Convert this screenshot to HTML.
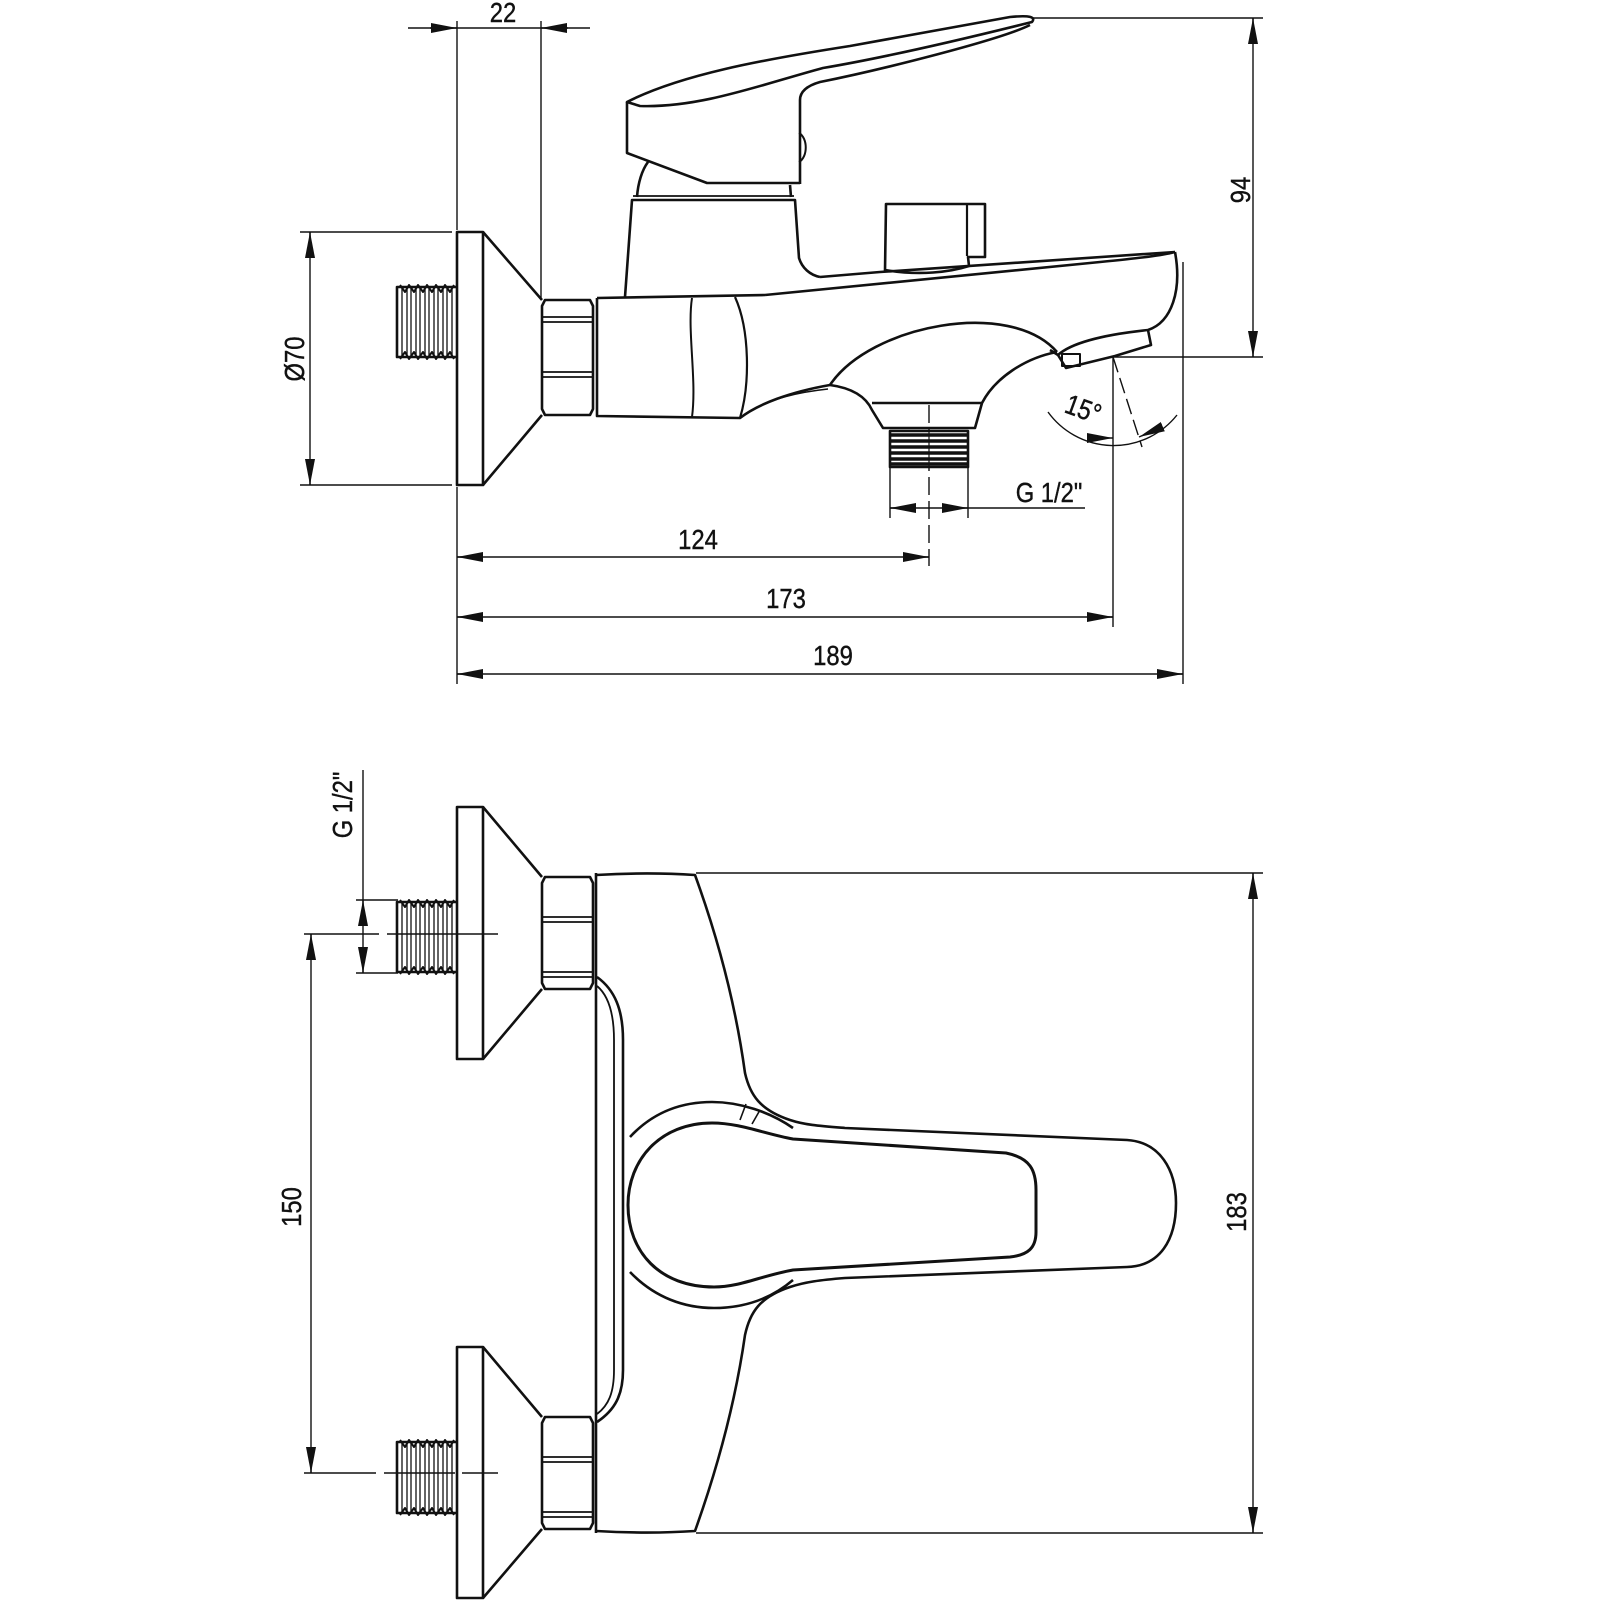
<!DOCTYPE html>
<html><head><meta charset="utf-8"><style>
html,body{margin:0;padding:0;background:#fff;}
svg{display:block}
text{font-family:"Liberation Sans",sans-serif;fill:#111;font-size:28px;stroke:#111;stroke-width:0.4}
</style></head><body>
<svg width="1600" height="1600" viewBox="0 0 1600 1600" xmlns="http://www.w3.org/2000/svg">
<defs>
<marker id="a" markerUnits="userSpaceOnUse" markerWidth="26" markerHeight="12" refX="26" refY="6" orient="auto"><path d="M0,1 L26,6 L0,11z" fill="#111"/></marker>
</defs>
<g fill="none" stroke="#111" stroke-width="1.4">
<line x1="408" y1="28" x2="590" y2="28"/>
<line x1="430" y1="28" x2="457" y2="28" marker-end="url(#a)"/>
<line x1="568" y1="28" x2="541" y2="28" marker-end="url(#a)"/>
<line x1="457" y1="21" x2="457" y2="230"/>
<line x1="541" y1="21" x2="541" y2="298"/>
<line x1="1032" y1="18" x2="1263" y2="18"/>
<line x1="1113" y1="357" x2="1263" y2="357"/>
<line x1="1253" y1="18" x2="1253" y2="357"/>
<line x1="1253" y1="44" x2="1253" y2="18" marker-end="url(#a)"/>
<line x1="1253" y1="331" x2="1253" y2="357" marker-end="url(#a)"/>
<line x1="300" y1="232" x2="452" y2="232"/>
<line x1="300" y1="485" x2="452" y2="485"/>
<line x1="310" y1="232" x2="310" y2="485"/>
<line x1="310" y1="258" x2="310" y2="232" marker-end="url(#a)"/>
<line x1="310" y1="459" x2="310" y2="485" marker-end="url(#a)"/>
<line x1="890" y1="468" x2="890" y2="518"/>
<line x1="968" y1="468" x2="968" y2="518"/>
<line x1="890" y1="508" x2="1085" y2="508"/>
<line x1="916" y1="508" x2="890" y2="508" marker-end="url(#a)"/>
<line x1="942" y1="508" x2="968" y2="508" marker-end="url(#a)"/>
<line x1="929" y1="405" x2="929" y2="566" stroke-dasharray="18,6"/>
<line x1="457" y1="487" x2="457" y2="684"/>
<line x1="1113" y1="357" x2="1113" y2="627"/>
<line x1="1183" y1="262" x2="1183" y2="684"/>
<line x1="457" y1="557" x2="929" y2="557"/>
<line x1="483" y1="557" x2="457" y2="557" marker-end="url(#a)"/>
<line x1="903" y1="557" x2="929" y2="557" marker-end="url(#a)"/>
<line x1="457" y1="617" x2="1113" y2="617"/>
<line x1="483" y1="617" x2="457" y2="617" marker-end="url(#a)"/>
<line x1="1087" y1="617" x2="1113" y2="617" marker-end="url(#a)"/>
<line x1="457" y1="674" x2="1183" y2="674"/>
<line x1="483" y1="674" x2="457" y2="674" marker-end="url(#a)"/>
<line x1="1157" y1="674" x2="1183" y2="674" marker-end="url(#a)"/>
<line x1="1113" y1="357" x2="1142" y2="447" stroke-dasharray="16,6"/>
<path d="M1048,412 A81,81 0 0 0 1177,415"/>
<line x1="1088" y1="438" x2="1113" y2="438" marker-end="url(#a)"/>
<line x1="1162" y1="427" x2="1139" y2="437" marker-end="url(#a)"/>
<line x1="363" y1="770" x2="363" y2="973"/>
<line x1="363" y1="925" x2="363" y2="900" marker-end="url(#a)"/>
<line x1="363" y1="948" x2="363" y2="973" marker-end="url(#a)"/>
<line x1="356" y1="900" x2="398" y2="900"/>
<line x1="356" y1="973" x2="398" y2="973"/>
<line x1="304" y1="934" x2="379" y2="934"/>
<line x1="387" y1="934" x2="498" y2="934"/>
<line x1="304" y1="1473" x2="376" y2="1473"/>
<line x1="384" y1="1473" x2="455" y2="1473"/>
<line x1="462" y1="1473" x2="498" y2="1473"/>
<line x1="311" y1="934" x2="311" y2="1473"/>
<line x1="311" y1="960" x2="311" y2="934" marker-end="url(#a)"/>
<line x1="311" y1="1447" x2="311" y2="1473" marker-end="url(#a)"/>
<line x1="696" y1="873" x2="1263" y2="873"/>
<line x1="696" y1="1533" x2="1263" y2="1533"/>
<line x1="1253" y1="873" x2="1253" y2="1533"/>
<line x1="1253" y1="899" x2="1253" y2="873" marker-end="url(#a)"/>
<line x1="1253" y1="1507" x2="1253" y2="1533" marker-end="url(#a)"/>
</g>

<g fill="none" stroke="#111" stroke-width="2.6" stroke-linejoin="round">
<rect x="457" y="232" width="26" height="253"/>
<path d="M483,232 L542,300 M483,485 L542,415"/>
<path d="M457,287 L397,287 L397,357 L457,357"/>
<path d="M400,285 L405,292 L409,285 L414,292 L418,285 L423,292 L427,285 L432,292 L436,285 L441,292 L445,285 L450,292 L454,285 M400,359 L405,352 L409,359 L414,352 L418,359 L423,352 L427,359 L432,352 L436,359 L441,352 L445,359 L450,352 L454,359" stroke-width="2"/>
<path d="M402,288 V356 M407,288 V356 M411,288 V356 M416,288 V356 M420,288 V356 M425,288 V356 M429,288 V356 M434,288 V356 M438,288 V356 M443,288 V356 M447,288 V356 M452,288 V356" stroke-width="1.3"/>
<path d="M545,300 H590 L593,306 V409 L590,415 H545 L542,409 V306 Z"/>
<path d="M543,317 H592 M543,322 H592 M543,372 H592 M543,377 H592" stroke-width="1.8"/>
<path d="M597,298 V416 L740,418 C758,404 790,392 830,385"/>
<path d="M745,414 C770,398 800,392 828,389" stroke-width="1.6"/>
<path d="M597,298 L765,295"/>
<path d="M692,298 C687,330 697,380 692,417" stroke-width="2"/>
<path d="M735,297 C750,330 750,385 740,418" stroke-width="2.2"/>
<path d="M625,297 L632,200 H795 L799,258 C802,268 810,275 820,277"/>
<path d="M633,196 H794" stroke-width="1.8"/>
<path d="M637,197 C638,183 642,170 648,162 M790,185 L791,197"/>
<path d="M627,102 C680,75 760,60 850,46 L1010,17 C1030,15 1036,17 1032,22 C1000,30 900,55 823,68 C760,85 700,108 640,106 Z"/>
<path d="M1030,25 C1000,40 880,70 820,82 C806,86 800,92 800,100 V184"/>
<path d="M627,102 V153 L707,183 H800"/>
<path d="M799,133 C808,138 808,157 799,162" stroke-width="2"/>
<path d="M820,277 L880,272 L1175,252"/>
<path d="M765,295 L1100,262 C1130,259 1160,256 1175,252"/>
<path d="M1175,252 C1182,290 1172,322 1148,330 L1151,345 L1115,356 L1066,368 L1058,355 C1070,344 1100,335 1148,330"/>
<rect x="1062" y="354" width="18" height="12" stroke-width="2"/>
<path d="M1058,355 L1050,350 M830,385 C870,325 1010,298 1057,352"/>
<path d="M830,385 C852,388 866,397 872,410 L883,428 H975 L982,403 C995,378 1025,358 1057,352"/>
<path d="M872,403 H982"/>
<path d="M890,431 H968 V467 H890 Z" fill="#fff"/>
<path d="M891,435 H967 M891,441 H967 M891,447 H967 M891,453 H967 M891,459 H967 M891,464 H967" stroke-width="3.4"/>
<line x1="929" y1="430" x2="929" y2="468" stroke-width="1.2"/>
<path d="M885,271 L886,204 H985 V257 H968 L969,266"/>
<path d="M967,205 V256" stroke-width="2.2"/>
<path d="M885,270 C920,276 950,272 969,266"/>

<rect x="457" y="807" width="26" height="252"/>
<path d="M483,807 L542,877 M483,1059 L542,989"/>
<path d="M457,902 L397,902 L397,972 L457,972"/>
<path d="M400,900 L405,907 L409,900 L414,907 L418,900 L423,907 L427,900 L432,907 L436,900 L441,907 L445,900 L450,907 L454,900 M400,974 L405,967 L409,974 L414,967 L418,974 L423,967 L427,974 L432,967 L436,974 L441,967 L445,974 L450,967 L454,974" stroke-width="2"/>
<path d="M402,903 V971 M407,903 V971 M411,903 V971 M416,903 V971 M420,903 V971 M425,903 V971 M429,903 V971 M434,903 V971 M438,903 V971 M443,903 V971 M447,903 V971 M452,903 V971" stroke-width="1.3"/>
<path d="M545,877 H590 L593,883 V983 L590,989 H545 L542,983 V883 Z"/>
<path d="M543,917 H592 M543,922 H592 M543,972 H592 M543,977 H592" stroke-width="1.8"/>
<rect x="457" y="1347" width="26" height="251"/>
<path d="M483,1347 L542,1417 M483,1598 L542,1529"/>
<path d="M457,1442 L397,1442 L397,1513 L457,1513"/>
<path d="M400,1440 L405,1447 L409,1440 L414,1447 L418,1440 L423,1447 L427,1440 L432,1447 L436,1440 L441,1447 L445,1440 L450,1447 L454,1440 M400,1515 L405,1508 L409,1515 L414,1508 L418,1515 L423,1508 L427,1515 L432,1508 L436,1515 L441,1508 L445,1515 L450,1508 L454,1515" stroke-width="2"/>
<path d="M402,1443 V1512 M407,1443 V1512 M411,1443 V1512 M416,1443 V1512 M420,1443 V1512 M425,1443 V1512 M429,1443 V1512 M434,1443 V1512 M438,1443 V1512 M443,1443 V1512 M447,1443 V1512 M452,1443 V1512" stroke-width="1.3"/>
<path d="M545,1417 H590 L593,1423 V1523 L590,1529 H545 L542,1523 V1423 Z"/>
<path d="M543,1457 H592 M543,1462 H592 M543,1512 H592 M543,1517 H592" stroke-width="1.8"/>
<path d="M596,873 V1533"/>
<path d="M596,875 C630,873 665,873 695,875 C715,930 735,1000 745,1073 C750,1095 760,1110 790,1120 C805,1125 820,1126 845,1128 L1127,1140 C1160,1142 1176,1170 1176,1203 C1176,1240 1160,1266 1127,1267 L845,1278 C820,1280 805,1282 790,1287 C760,1297 750,1312 745,1335 C735,1405 715,1475 695,1531 C665,1533 630,1533 596,1531"/>
<path d="M597,977 C615,990 623,1010 623,1040 L623,1370 C623,1395 615,1410 597,1422"/>
<path d="M597,986 C609,996 614,1014 614,1040 L614,1370 C614,1392 609,1405 597,1414" stroke-width="1.8"/>
<path d="M630,1137 C655,1110 685,1102 712,1102 C740,1102 770,1112 793,1128"/>
<path d="M630,1272 C655,1298 685,1308 714,1308 C745,1308 772,1298 793,1280"/>
<path d="M746,1104 L740,1120 M760,1110 L752,1124" stroke-width="1.6"/>
<path d="M793,1139 L1006,1153 C1030,1158 1036,1170 1036,1190 V1232 C1036,1248 1028,1255 1010,1257 L793,1270 C760,1276 740,1287 714,1287 C660,1287 628,1252 628,1205 C628,1160 660,1123 712,1123 C740,1123 765,1134 793,1139 Z" stroke-width="3"/>
</g>

<text transform="translate(503,22) scale(0.85,1)" text-anchor="middle">22</text>
<text transform="translate(1250,190) rotate(-90) scale(0.85,1)" text-anchor="middle">94</text>
<text transform="translate(304,359) rotate(-90) scale(0.85,1)" text-anchor="middle">Ø70</text>
<text transform="translate(1049,502) scale(0.85,1)" text-anchor="middle">G 1/2"</text>
<text transform="translate(698,549) scale(0.85,1)" text-anchor="middle">124</text>
<text transform="translate(786,608) scale(0.85,1)" text-anchor="middle">173</text>
<text transform="translate(833,665) scale(0.85,1)" text-anchor="middle">189</text>
<text transform="translate(1080,418) rotate(20) scale(0.85,1)" text-anchor="middle">15°</text>
<text transform="translate(352,805) rotate(-90) scale(0.85,1)" text-anchor="middle">G 1/2"</text>
<text transform="translate(301,1207) rotate(-90) scale(0.85,1)" text-anchor="middle">150</text>
<text transform="translate(1246,1212) rotate(-90) scale(0.85,1)" text-anchor="middle">183</text>
</svg>
</body></html>
